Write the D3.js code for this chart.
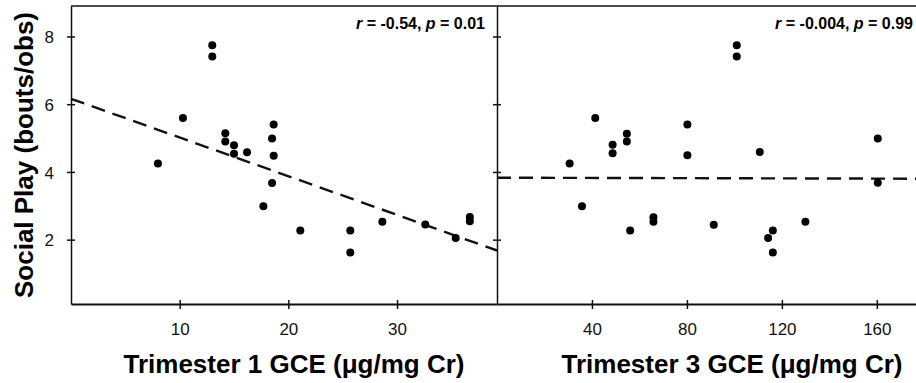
<!DOCTYPE html>
<html>
<head>
<meta charset="utf-8">
<script src="https://cdn.jsdelivr.net/npm/d3@7"></script>
<style>
  body { margin: 0; background: #fff; }
  svg { display: block; font-family: "Liberation Sans", Arial, sans-serif; }
</style>
</head>
<body>
<div id="chart"></div>
<script>
// social play (bouts/obs) vs GCE, two trimesters
var t1GCE  = [8.0, 10.3, 13.0, 13.0, 14.2, 14.2, 15.0, 15.0, 16.2, 18.65, 18.5, 18.65, 18.5, 17.7, 21.1, 25.7, 25.7, 28.65, 32.6, 35.4, 36.7, 36.7];
var t1Play = [4.25, 5.59, 7.74, 7.41, 5.14, 4.90, 4.79, 4.54, 4.58, 5.40, 4.99, 4.48, 3.67, 2.99, 2.27, 2.27, 1.62, 2.53, 2.45, 2.05, 2.67, 2.54];

var t3GCE  = [101.0, 101.0, 41.4, 30.6, 48.7, 48.7, 54.7, 54.7, 80.2, 80.2, 110.7, 160.4, 160.4, 35.8, 56.1, 65.9, 65.9, 91.3, 114.2, 116.2, 116.2, 129.9];
var t3Play = [7.74, 7.41, 5.59, 4.25, 4.80, 4.55, 5.13, 4.90, 5.40, 4.49, 4.59, 4.99, 3.68, 2.99, 2.27, 2.66, 2.53, 2.44, 2.05, 2.27, 1.62, 2.53];

// fitted lines: [x0, y0, x1, y1]
var t1Fit = [0, 6.16, 39.2, 1.68];
var t3Fit = [0, 3.83, 177, 3.80];

var yTicks  = [2, 4, 6, 8];
var t1Ticks = [10, 20, 30];
var t3Ticks = [40, 80, 120, 160];

var W = 916, H = 383;
var plotTop = 6, plotBottom = 304;
var left1 = 71, right1 = 497, right2 = 916;

var svg = d3.select("#chart").append("svg")
    .attr("width", W)
    .attr("height", H);

var y = d3.scaleLinear().domain([0.1, 8.9]).range([plotBottom, plotTop]);
var x1 = d3.scaleLinear().domain([0, 39.2]).range([left1, right1]);
var x3 = d3.scaleLinear().domain([0, 176.5]).range([right1, right2]);

// top border
svg.append("line")
    .attr("x1", left1).attr("x2", right2)
    .attr("y1", plotTop).attr("y2", plotTop)
    .attr("stroke", "#111").attr("stroke-width", 1.5);

function panel(xs, xvals, yvals, fit, ticks, x0, showLabels) {
  // y axis
  var ya = svg.append("g")
      .attr("transform", "translate(" + x0 + ",0)")
      .call(d3.axisLeft(y).tickValues(yTicks).tickSizeOuter(0))
      .attr("font-family", "Liberation Sans, Arial, sans-serif")
      .attr("font-size", 17);
  ya.select(".domain").attr("stroke", "#111").attr("stroke-width", 1.5);
  ya.selectAll(".tick line").attr("x2", 4).attr("x1", -4).attr("stroke", "#111").attr("stroke-width", 1.5);
  if (!showLabels) ya.selectAll(".tick text").remove();
  else ya.selectAll(".tick text").attr("x", -17).attr("dy", "0.36em").attr("fill", "#111");

  // x axis
  var xa = svg.append("g")
      .attr("transform", "translate(0," + plotBottom + ")")
      .call(d3.axisBottom(xs).tickValues(ticks).tickSizeOuter(0).tickFormat(d3.format("d")))
      .attr("font-family", "Liberation Sans, Arial, sans-serif")
      .attr("font-size", 17);
  xa.select(".domain").attr("stroke", "#111").attr("stroke-width", 2);
  xa.selectAll(".tick line").attr("y1", -4).attr("y2", 5).attr("stroke", "#111").attr("stroke-width", 1.5);
  xa.selectAll(".tick text").attr("y", 19).attr("dy", "0.71em").attr("fill", "#111");

  // regression line
  svg.append("line")
      .attr("x1", xs(fit[0])).attr("y1", y(fit[1]))
      .attr("x2", xs(fit[2])).attr("y2", y(fit[3]))
      .attr("stroke", "#111")
      .attr("stroke-width", 2.4)
      .attr("stroke-dasharray", "14,8");

  svg.append("g").selectAll("circle")
      .data(xvals)
      .enter()
      .append("circle")
      .attr("cx", function(d) { return xs(d); })
      .attr("cy", function(d, i) { return y(yvals[i]); })
      .attr("r", 4)
      .attr("fill", "#000");
}

panel(x1, t1GCE, t1Play, t1Fit, t1Ticks, left1, true);
panel(x3, t3GCE, t3Play, t3Fit, t3Ticks, right1, false);

// stats text
function stat(xr, rv, pv) {
  var t = svg.append("text")
      .attr("x", xr).attr("y", 29)
      .attr("text-anchor", "end")
      .style("font-size", "16px")
      .style("font-weight", "bold");
  t.append("tspan").style("font-style", "italic").text("r");
  t.append("tspan").text(" = " + rv + ", ");
  t.append("tspan").style("font-style", "italic").text("p");
  t.append("tspan").text(" = " + pv);
}
stat(485, "-0.54", "0.01");
stat(913, "-0.004", "0.99");

// axis titles
svg.append("text")
    .attr("x", 294).attr("y", 373)
    .attr("text-anchor", "middle")
    .style("font-size", "26px").style("font-weight", "bold")
    .text("Trimester 1 GCE (\u03BCg/mg Cr)");

svg.append("text")
    .attr("x", 732).attr("y", 373)
    .attr("text-anchor", "middle")
    .style("font-size", "26px").style("font-weight", "bold")
    .text("Trimester 3 GCE (\u03BCg/mg Cr)");

svg.append("text")
    .attr("transform", "translate(33,155) rotate(-90)")
    .attr("text-anchor", "middle")
    .style("font-size", "26px").style("font-weight", "bold")
    .text("Social Play (bouts/obs)");
</script>
</body>
</html>
